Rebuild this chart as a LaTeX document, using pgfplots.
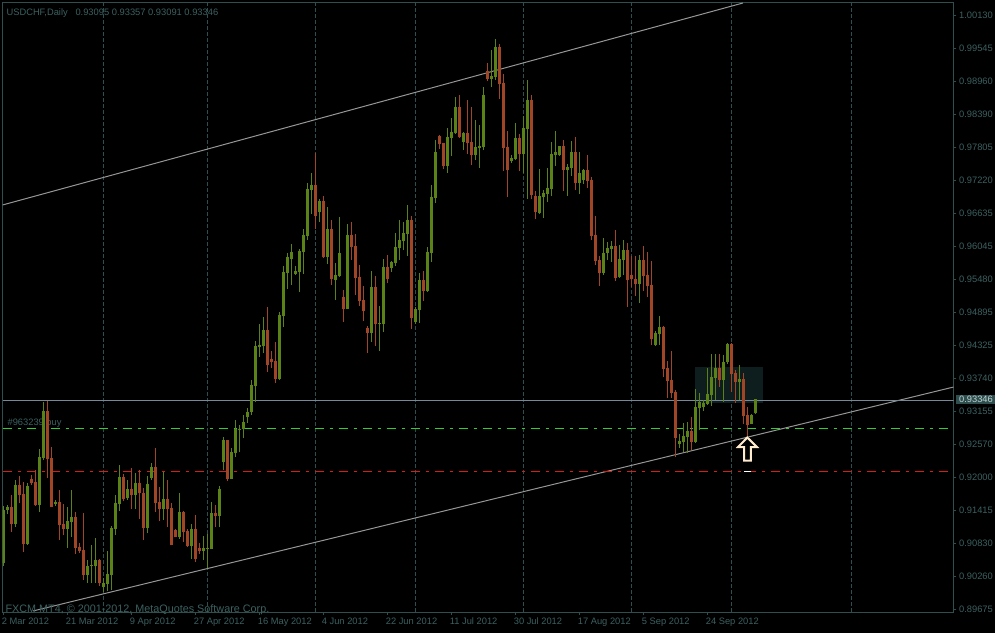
\documentclass[border=0pt]{standalone}
\usepackage{fontspec}
\setmainfont{Liberation Sans}
\usepackage{pgfplots}
\usepackage{pgfplotstable}
\pgfplotsset{compat=1.18}
\definecolor{fg}{RGB}{47,79,79}
\definecolor{fgtext}{RGB}{60,96,96}
\definecolor{bull}{RGB}{90,130,22}
\definecolor{bear}{RGB}{160,70,38}
\definecolor{bidline}{RGB}{119,136,153}
\definecolor{chanline}{RGB}{150,150,150}
\definecolor{boxfill}{RGB}{14,30,30}
\definecolor{arrowc}{RGB}{255,235,205}
\definecolor{stopgreen}{RGB}{50,205,50}
\definecolor{stopred}{RGB}{215,30,20}
\definecolor{tagtext}{RGB}{190,208,208}

% i open high low close
\pgfplotstableread{
i o h l c
0 .90458 .91459 .90399 .91388
1 .91388 .91476 .91317 .91447
3 .91141 .91918 .91094 .91830
6 .90788 .91859 .90770 .91812
9 .91476 .92460 .91353 .92318
10 .92306 .93295 .92271 .93137
13 .91500 .91565 .91459 .91535
16 .91052 .91447 .90717 .91194
17 .91176 .91741 .90917 .91264
21 .90240 .90505 .90105 .90399
22 .90405 .90770 .90093 .90417
23 .90399 .90894 .90105 .90505
25 .90028 .90181 .89940 .90099
26 .90081 .90664 .89958 .90258
27 .90240 .91106 .89975 .91070
28 .91052 .91653 .90947 .91512
29 .91494 .92183 .91376 .91971
31 .91600 .91918 .91565 .91759
33 .91653 .92036 .91406 .91865
36 .91070 .91989 .90976 .91847
37 .91953 .92212 .91918 .92147
40 .91406 .92065 .91211 .91582
44 .90911 .91688 .90882 .91353
47 .90752 .91141 .90523 .91052
50 .90664 .90929 .90505 .90717
51 .90705 .90964 .90358 .90717
52 .90699 .91529 .90699 .91335
54 .91282 .91812 .91082 .91759
55 .92236 .92671 .92095 .92624
57 .91936 .92477 .91936 .92412
58 .92395 .92978 .92324 .92819
59 .92801 .92889 .92407 .92824
60 .92819 .93066 .92654 .92942
61 .93031 .93184 .92925 .93119
62 .93125 .93684 .93066 .93590
63 .93578 .94373 .93301 .94284
64 .94267 .94673 .94090 .94302
65 .94284 .94797 .94161 .94567
69 .93702 .94885 .93684 .94832
70 .94814 .95697 .94620 .95591
71 .95574 .95927 .95291 .95856
72 .95821 .96086 .95362 .95945
73 .95556 .95697 .95538 .95609
74 .95591 .95998 .95238 .95962
75 .95945 .96351 .95556 .96245
76 .96227 .97163 .96157 .97057
77 .97040 .97340 .96616 .97128
79 .96651 .96881 .96474 .96845
81 .95856 .96739 .95733 .96351
83 .95450 .95750 .95097 .95538
84 .95521 .96563 .95503 .95927
86 .94938 .96439 .94938 .96245
92 .94514 .95609 .94355 .95326
94 .94673 .94991 .94196 .94691
95 .94673 .95821 .94532 .95680
97 .95662 .95786 .95591 .95768
98 .95750 .96280 .95697 .96033
99 .96015 .96510 .95803 .96157
100 .96139 .96474 .95980 .96280
101 .96262 .96775 .95874 .96510
103 .94708 .94973 .94673 .94938
104 .94920 .95574 .94691 .95450
106 .95256 .96033 .95238 .95945
107 .95927 .97128 .95768 .96916
108 .96898 .97922 .96810 .97710
111 .97463 .98134 .97339 .97975
112 .97958 .98311 .97640 .98064
113 .98046 .98682 .98028 .98505
115 .97887 .98064 .97746 .98046
118 .97657 .98276 .97569 .97799
119 .97781 .98187 .97428 .97816
120 .97799 .98858 .97746 .98717
122 .99000 .99512 .98858 .99053
123 .99035 .99706 .98982 .99565
127 .97551 .97657 .97516 .97604
128 .97587 .98223 .97569 .97958
130 .97675 .98346 .97334 .98134
131 .98117 .98982 .96880 .98629
134 .96633 .97410 .96615 .96933
135 .96916 .97039 .96545 .96986
136 .96969 .97428 .96827 .97075
137 .97057 .97887 .96933 .97675
138 .97657 .98081 .97463 .97710
139 .97657 .97816 .97640 .97816
141 .97392 .97498 .96933 .97445
142 .97428 .97905 .97287 .97710
144 .97163 .97710 .96969 .97339
145 .97216 .97410 .97145 .97392
150 .95574 .96192 .95539 .95927
151 .95927 .96121 .95804 .96015
152 .95998 .96139 .95768 .96051
154 .95503 .96068 .95486 .95821
155 .95804 .96157 .95539 .95980
159 .95380 .95892 .95044 .95804
163 .94302 .94550 .94285 .94514
164 .94497 .94815 .94302 .94620
169 .92554 .92731 .92483 .92607
170 .92589 .92925 .92413 .92695
171 .92678 .92942 .92395 .92784
173 .92589 .93525 .92572 .93207
174 .93190 .93455 .92801 .93296
175 .93207 .93331 .93137 .93278
176 .93260 .93896 .93243 .93437
177 .93419 .94143 .93225 .93737
178 .93720 .94143 .93331 .93896
180 .93684 .94126 .93296 .94002
181 .94002 .94338 .93967 .94320
184 .93649 .93949 .93331 .93702
187 .92907 .93084 .92907 .93066
188 .93095 .93357 .93091 .93346
}\upcandles

\pgfplotstableread{
i o h l c
2 .91441 .91653 .90999 .91141
4 .91830 .91989 .91506 .91653
5 .91671 .91888 .90646 .90788
7 .91941 .92006 .91830 .91859
8 .91883 .92095 .91459 .91471
11 .93137 .93319 .91953 .92289
12 .92301 .92507 .91441 .91441
14 .91529 .91741 .90858 .91123
15 .91141 .91494 .90941 .91052
18 .91264 .91353 .90611 .90717
19 .90735 .90799 .90623 .90664
20 .90682 .91329 .90152 .90240
24 .90505 .90517 .90046 .90099
30 .91971 .92024 .91547 .91582
32 .91759 .92130 .91406 .91653
34 .91865 .92095 .91229 .91682
35 .91688 .91771 .90858 .91070
38 .92147 .92477 .91353 .91512
39 .91529 .91794 .91194 .91406
41 .91582 .91918 .91094 .91406
42 .91423 .91506 .90770 .90770
43 .91035 .91047 .90905 .90911
45 .91353 .91376 .90823 .90999
46 .91017 .91052 .90740 .90752
48 .91052 .91300 .90470 .90523
49 .90717 .90799 .90611 .90664
53 .91335 .91476 .91094 .91282
56 .92624 .92624 .91900 .91936
66 .94567 .94973 .93825 .93949
67 .94055 .94196 .93896 .94002
68 .94020 .94355 .93631 .93702
78 .97128 .97699 .96351 .96580
80 .96845 .96934 .95839 .95856
82 .96351 .96510 .95362 .95468
85 .95150 .95273 .94708 .94938
87 .96245 .96474 .95803 .96033
88 .96051 .96262 .95185 .95485
89 .95503 .95715 .94991 .95079
90 .95097 .95344 .94726 .94903
91 .94602 .94638 .94161 .94514
93 .95326 .95521 .94284 .94673
96 .95680 .95892 .95397 .95468
102 .96510 .96580 .94585 .94779
105 .95450 .95609 .95079 .95256
109 .97993 .98011 .97763 .97852
110 .97869 .97869 .97410 .97463
114 .98505 .98717 .97958 .97975
116 .98046 .98629 .97675 .97869
117 .97887 .98505 .97481 .97657
121 .99141 .99282 .98964 .99000
124 .99565 .99618 .98646 .98911
125 .98929 .99088 .97375 .97781
126 .97799 .98081 .96916 .97392
129 .97958 .98028 .97375 .97675
132 .98629 .98717 .96880 .96951
133 .96933 .97022 .96527 .96651
140 .97816 .97922 .97022 .97392
143 .97710 .97975 .97039 .97163
146 .97392 .97657 .97075 .97198
147 .97216 .97269 .96156 .96227
148 .96244 .96580 .95715 .95786
149 .95804 .95874 .95344 .95574
153 .96051 .96333 .95433 .95486
156 .95980 .96104 .94973 .95450
157 .95539 .95874 .95327 .95468
158 .95468 .95874 .95168 .95380
160 .95804 .96051 .95256 .95521
161 .95539 .95945 .95150 .95344
162 .95362 .95786 .94302 .94408
165 .94620 .94638 .93737 .93878
166 .93896 .94020 .93366 .93667
167 .93684 .94196 .93366 .93455
168 .93472 .93508 .92324 .92660
172 .92784 .93031 .92448 .92589
179 .93896 .94143 .93561 .93684
182 .94320 .94338 .93472 .93790
183 .93808 .93861 .93278 .93649
185 .93702 .93808 .92907 .93048
186 .93066 .93207 .92695 .92889
}\downcandles

\begin{document}
\begin{tikzpicture}[x=1pt,y=1pt]
\path[fill=black, use as bounding box] (-1.875pt,-15.75pt) rectangle (744.375pt,459pt);
\begin{axis}[
    scale only axis,
    at={(0pt,0pt)}, anchor=south west,
    width=713.25pt, height=457.125pt,
    xmin=-0.2, xmax=237.55,
    ymin=0.89587, ymax=1.00351,
    clip mode=individual,
    axis line style={fg, line width=0.75pt},
    tick style={fg, line width=0.75pt},
    tick align=outside,
    major tick length=2.2pt,
    xtick pos=bottom, ytick pos=right,
    yticklabel pos=right,
    xtick={0,16,32,48,64,80,96,112,128,144,160,176},
    xticklabels={2 Mar 2012,21 Mar 2012,9 Apr 2012,27 Apr 2012,16 May 2012,4 Jun 2012,22 Jun 2012,11 Jul 2012,30 Jul 2012,17 Aug 2012,5 Sep 2012,24 Sep 2012},
    ytick={1.00130,0.99547,0.98964,0.98381,0.97798,0.97215,0.96631,0.96048,0.95465,0.94882,0.94299,0.93716,0.93133,0.92550,0.91967,0.91384,0.90800,0.90217,0.89634},
    yticklabels={1.00130,0.99545,0.98960,0.98390,0.97805,0.97220,0.96635,0.96045,0.95480,0.94895,0.94325,0.93740,0.93155,0.92570,0.92000,0.91415,0.90830,0.90260,0.89675},
    x tick label style={font=\fontsize{7}{8}\selectfont, text=fgtext, anchor=north west, xshift=-2.3pt, yshift=-0.8pt, inner sep=1pt},
    y tick label style={font=\fontsize{7}{8}\selectfont, text=fgtext, anchor=west, xshift=0.8pt, inner sep=1pt},
    error bars/error mark=none,
]
% period separators
\addplot[fg, line width=0.75pt, dash pattern=on 3pt off 1.5pt, ycomb, mark=none, forget plot]
  coordinates {(25,1.00351)(51,1.00351)(78,1.00351)(103,1.00351)(130,1.00351)(157,1.00351)(182,1.00351)(212,1.00351)};
% order label
\addplot[draw=none] coordinates {(1,0.92920)} node[anchor=west, text=fgtext, font=\fontsize{7}{8}\selectfont, inner sep=0pt] {\#963239 buy};
% shaded rectangle
\addplot[draw=none, fill=boxfill] coordinates {(172.9,0.93914)(189.9,0.93914)(189.9,0.93278)(172.9,0.93278)} --cycle;
% channel
\addplot[chanline, line width=0.75pt] coordinates {(-0.2,0.96775)(184.9,1.00342)};
\addplot[chanline, line width=0.75pt] coordinates {(7.42,0.89605)(237.55,0.93560)};
% price levels
\addplot[bidline, line width=0.75pt] coordinates {(-0.2,0.93322)(237.55,0.93322)};
\addplot[stopgreen, line width=0.75pt, dash pattern=on 6.75pt off 4.5pt on 2.25pt off 4.5pt] coordinates {(-0.2,0.92831)(237.55,0.92831)};
\addplot[stopred, line width=0.75pt, dash pattern=on 6.75pt off 4.5pt on 2.25pt off 4.5pt] coordinates {(-0.2,0.92072)(237.55,0.92072)};
\addplot[white, line width=0.75pt] coordinates {(185.2,0.92072)(187.0,0.92072)};
% wicks and bodies
\addplot[draw=none, mark=none, error bars/.cd, y dir=plus, y explicit, error bar style={draw=bull, line width=0.75pt}]
  table[x=i, y=l, y error plus expr=\thisrow{h}-\thisrow{l}] {\upcandles};
\addplot[draw=none, mark=none, error bars/.cd, y dir=plus, y explicit, error bar style={draw=bull, line width=2.25pt}]
  table[x=i, y=o, y error plus expr=\thisrow{c}-\thisrow{o}] {\upcandles};
\addplot[draw=none, mark=none, error bars/.cd, y dir=plus, y explicit, error bar style={draw=bear, line width=0.75pt}]
  table[x=i, y=l, y error plus expr=\thisrow{h}-\thisrow{l}] {\downcandles};
\addplot[draw=none, mark=none, error bars/.cd, y dir=plus, y explicit, error bar style={draw=bear, line width=2.25pt}]
  table[x=i, y=c, y error plus expr=\thisrow{o}-\thisrow{c}] {\downcandles};
% arrow
\addplot[arrowc, fill=black, line width=1.5pt, line join=miter]
  coordinates {(186,0.92669)(188.4,0.92501)(186.9,0.92501)(186.9,0.92262)(185.2,0.92262)(185.2,0.92501)(183.7,0.92501)} --cycle;
% price tag
\node[anchor=west, xshift=1.9pt, yshift=0.8pt, fill=fg, text=tagtext, font=\fontsize{7}{8}\selectfont, inner xsep=1.5pt, inner ysep=0pt, minimum height=7pt, minimum width=29.5pt] at (axis cs:237.55,0.93322) {0.93346};
\node[anchor=west, text=fgtext, font=\fontsize{7}{8}\selectfont, inner sep=0pt] at (axis description cs:0.004,0.9825) {USDCHF,Daily\ \ \ 0.93095 0.93357 0.93091 0.93346};
\node[anchor=west, text=fgtext, font=\fontsize{8.1}{10}\selectfont, inner sep=0pt] at (axis description cs:0.003,0.004) {FXCM MT4, © 2001-2012, MetaQuotes Software Corp.};
\end{axis}
\end{tikzpicture}
\end{document}
